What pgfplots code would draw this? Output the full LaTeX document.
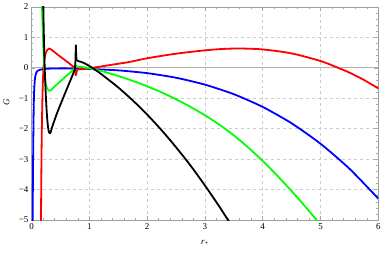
\documentclass[border=0pt]{standalone}
\usepackage{pgfplots}
\pgfplotsset{compat=1.18}
\usepackage{fontspec}
\setmainfont{Liberation Serif}
\definecolor{mred}{rgb}{1,0,0}
\definecolor{mgreen}{rgb}{0,1,0}
\definecolor{mblue}{rgb}{0,0,1}
\begin{document}
\fontsize{9}{10}\selectfont
\begin{tikzpicture}
\useasboundingbox (-31.5bp,-33bp) rectangle (350.5bp,220bp);
\begin{axis}[
  scale only axis, width=346.8bp, height=213.2bp,
  xmin=0, xmax=6, ymin=-5, ymax=2,
  xtick={0,...,6}, ytick={-5,...,2},
  xticklabels={0,1,2,3,4,5,6},
  yticklabels={−5,−4,−3,−2,−1,0,1,2},
  minor x tick num=4, minor y tick num=4,
  tick align=inside,
  major tick length=4bp, minor tick length=2bp,
  tick style={gray!70, line width=0.4pt},
  axis line style={gray!75, line width=0.5pt},
  grid=major, major grid style={dashed, gray!40, line width=0.5pt},
  tick label style={font=\fontsize{9}{10}\selectfont},
  /pgf/number format/assume math mode=true,
  xlabel={\textit{r}\raisebox{-0.35ex}{\scriptsize +}},
  ylabel={\textit{G}},
  every axis x label/.style={at={(axis description cs:0.5,-0.108)}, anchor=center},
  every axis y label/.style={at={(axis description cs:-0.072,0.55)}, anchor=center, rotate=90},
  clip=true,
  every axis plot/.append style={line width=1.8bp, line join=round},
]
\addplot[gray!60, line width=0.6pt] coordinates {(0,0) (6,0)};
% blue
\addplot[mblue, smooth, tension=0.4] coordinates {
(0.015,-5.5) (0.02,-5) (0.025,-3.6) (0.03,-2.6) (0.035,-1.75) (0.04,-1.15) (0.045,-0.8) (0.05,-0.6) (0.06,-0.36) (0.07,-0.25) (0.08,-0.18) (0.1,-0.11) (0.15,-0.065) (0.2,-0.045) (0.3,-0.03) (0.5,-0.022) (0.75,-0.025) (1,-0.04) (1.5,-0.087) (2,-0.178) (2.5,-0.329) (3,-0.555) (3.5,-0.869) (4,-1.287) (4.5,-1.824) (5,-2.495) (5.5,-3.314) (6,-4.297)};
% red
\addplot[mred, smooth, tension=0.4] coordinates {
(0.163,-5.5) (0.168,-4) (0.175,-2.6) (0.18,-1.9) (0.19,-0.9) (0.2,-0.3) (0.21,0.05) (0.225,0.3) (0.25,0.5) (0.28,0.6) (0.31,0.63) (0.34,0.6) (0.4,0.51) (0.5,0.36) (0.6,0.22) (0.7,0.07) (0.74,0.0)};
\addplot[mred] coordinates {
(0.74,0.0) (0.755,-0.1) (0.765,-0.25) (0.775,-0.2) (0.785,-0.08) (0.8,-0.05)};
\addplot[mred, smooth, tension=0.5] coordinates {
(0.8,-0.05) (0.9,-0.045) (1,-0.02) (1.2,0.04) (1.5,0.13) (1.7,0.19) (2,0.31) (2.5,0.46) (3,0.57) (3.3,0.615) (3.6,0.63) (4,0.6) (4.5,0.47) (5,0.22) (5.3,0.0) (5.5,-0.16) (5.75,-0.4) (6,-0.68)};
% green
\addplot[mgreen, smooth, tension=0.4] coordinates {
(0.175,2.6) (0.18,2.1) (0.19,1.5) (0.2,0.95) (0.21,0.45) (0.22,0.05) (0.235,-0.35) (0.25,-0.55) (0.27,-0.68) (0.3,-0.75) (0.32,-0.76) (0.35,-0.71) (0.45,-0.53) (0.55,-0.36) (0.65,-0.19) (0.72,-0.07) (0.75,-0.01)};
\addplot[mgreen] coordinates {
(0.75,-0.01) (0.762,0.1) (0.77,0.06) (0.78,0.04)};
\addplot[mgreen, smooth, tension=0.5] coordinates {
(0.78,0.04) (0.85,0.03) (0.92,0.01) (1,-0.02) (1.25,-0.13) (1.5,-0.27) (1.75,-0.43) (2,-0.61) (2.25,-0.81) (2.5,-1.035) (2.75,-1.285) (3,-1.56) (3.25,-1.87) (3.5,-2.22) (3.75,-2.62) (4,-3.06) (4.25,-3.54) (4.5,-4.05) (4.75,-4.59) (5,-5.15)};
% black
\addplot[black, smooth, tension=0.4] coordinates {
(0.198,2.6) (0.205,2.0) (0.21,1.4) (0.22,0.6) (0.23,-0.1) (0.245,-0.8) (0.26,-1.35) (0.275,-1.75) (0.29,-2.0) (0.305,-2.13) (0.32,-2.15) (0.335,-2.1) (0.36,-1.93) (0.45,-1.45) (0.55,-0.98) (0.65,-0.52) (0.72,-0.2) (0.75,-0.05)};
\addplot[black] coordinates {
(0.75,-0.05) (0.76,0.2) (0.767,0.74) (0.773,0.4) (0.78,0.25)};
\addplot[black, smooth, tension=0.5] coordinates {
(0.78,0.25) (0.82,0.21) (0.86,0.19) (0.9,0.16) (1.0,0.06) (1.1,-0.066) (1.2,-0.2) (1.35,-0.42) (1.5,-0.647) (1.75,-1.069) (2.0,-1.537) (2.25,-2.05) (2.5,-2.61) (2.75,-3.21) (3.0,-3.865) (3.25,-4.56) (3.5,-5.30)};
\end{axis}
\end{tikzpicture}
\end{document}
